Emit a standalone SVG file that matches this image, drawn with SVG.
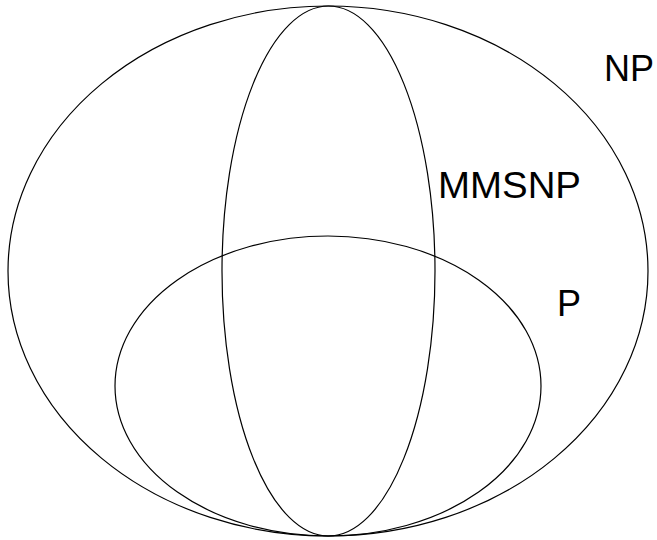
<svg xmlns="http://www.w3.org/2000/svg" width="657" height="540" viewBox="0 0 657 540">
<style>
.set{fill:none;stroke:#000;stroke-width:1.2}
.lbl{font-family:"Liberation Sans",Arial,sans-serif;font-size:36px;fill:#000}
</style>
<rect width="657" height="540" fill="#fff"/>
<g id="NP"><ellipse class="set" cx="328" cy="271" rx="320" ry="265"/><text class="lbl" x="604" y="81">NP</text></g>
<g id="MMSNP"><ellipse class="set" cx="328.5" cy="271" rx="106.5" ry="265"/><text class="lbl" x="438" y="198" textLength="143" lengthAdjust="spacingAndGlyphs">MMSNP</text></g>
<g id="P"><ellipse class="set" cx="328" cy="386" rx="213" ry="150"/><text class="lbl" x="557" y="316">P</text></g>
<g id="connectors"/>
</svg>
